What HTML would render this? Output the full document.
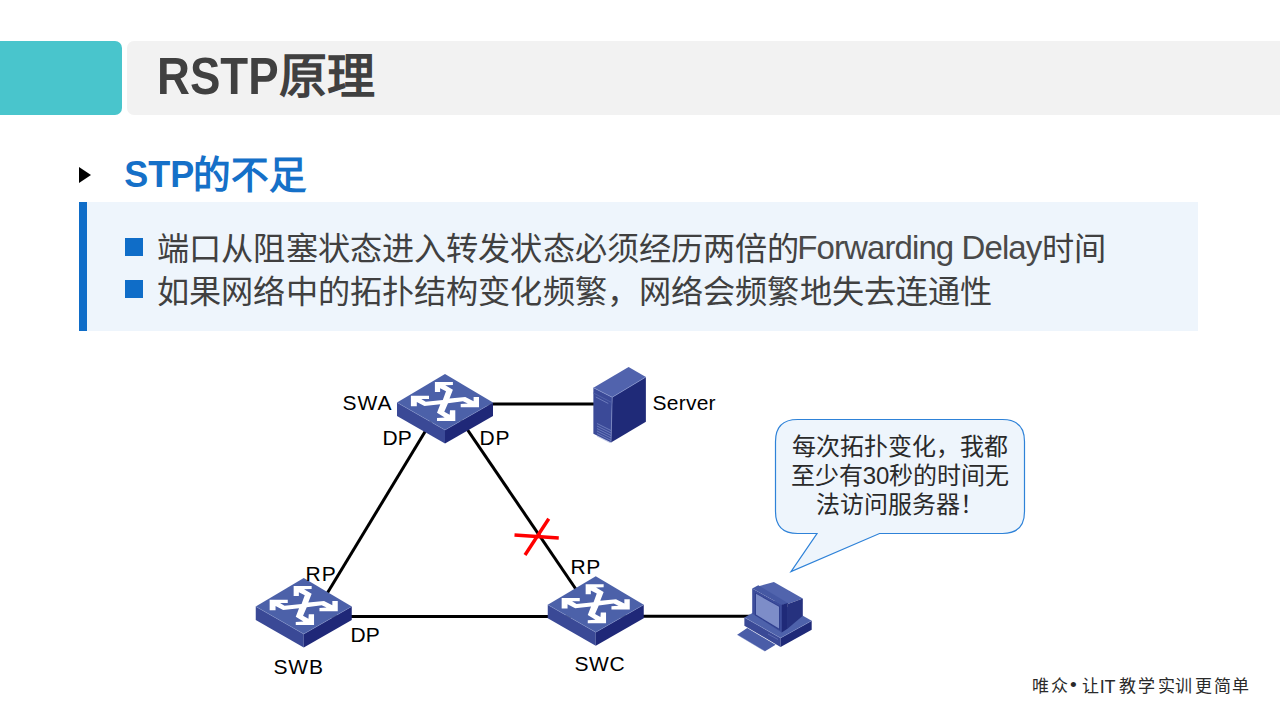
<!DOCTYPE html>
<html lang="zh-CN"><head><meta charset="utf-8">
<style>
html,body{margin:0;padding:0;background:#fff;}
body{width:1280px;height:720px;position:relative;overflow:hidden;font-family:"Liberation Sans",sans-serif;}
.abs{position:absolute;}
#teal{left:0;top:41px;width:122px;height:74px;background:#49C5CC;border-radius:0 7px 7px 0;}
#gbar{left:127px;top:41px;width:1160px;height:74px;background:#F2F2F2;border-radius:7px 0 0 7px;}
#titleL{left:156.8px;top:40px;line-height:74px;font-size:51px;font-weight:bold;color:#404040;white-space:nowrap;transform-origin:0 0;transform:scaleX(0.894);}
#titleC{left:279px;top:40px;line-height:74px;font-size:48px;font-weight:bold;color:#404040;white-space:nowrap;}
#tri{left:79px;top:167px;width:0;height:0;border-left:12.8px solid #000;border-top:8px solid transparent;border-bottom:8px solid transparent;}
#subL{left:124.2px;top:149px;font-size:36px;font-weight:bold;color:#1570C8;white-space:nowrap;line-height:52px;}
#subC{left:193px;top:149px;font-size:37.6px;font-weight:bold;color:#1570C8;white-space:nowrap;line-height:52px;}
#box{left:79px;top:202px;width:1119px;height:129px;background:#EEF5FC;}
#bar{left:79px;top:202px;width:8px;height:129px;background:#0F6DC8;}
.sq{position:absolute;left:125px;width:18px;height:18px;background:#0F6DC8;}
.ln{position:absolute;left:157px;font-size:32.2px;letter-spacing:0.13px;color:#404040;white-space:nowrap;line-height:42px;}
.lat{font-size:33px;letter-spacing:-0.9px;margin-left:-2.4px;margin-right:0.6px;color:#4a4a4a;position:relative;top:-1px;}
#diag{left:0;top:0;}
.lbl{font-family:"Liberation Sans",sans-serif;font-size:21px;fill:#000;}
#bub{left:775px;top:431.7px;width:250px;font-size:24px;line-height:29.2px;color:#2a2a2a;text-align:center;}
#logo span{position:absolute;top:676px;font-family:"Liberation Serif",serif;font-size:17px;line-height:22px;color:#2a2a2a;white-space:nowrap;}
</style></head><body>
<div id="teal" class="abs"></div>
<div id="gbar" class="abs"></div>
<div id="titleL" class="abs">RSTP</div><div id="titleC" class="abs">原理</div>
<div id="tri" class="abs"></div>
<div id="subL" class="abs">STP</div><div id="subC" class="abs">的不足</div>
<div id="box" class="abs"></div>
<div id="bar" class="abs"></div>
<div class="sq" style="top:238px"></div>
<div class="sq" style="top:280px"></div>
<div class="ln" style="top:228px">端口从阻塞状态进入转发状态必须经历两倍的<span class="lat">Forwarding Delay</span>时间</div>
<div class="ln" style="top:270.5px">如果网络中的拓扑结构变化频繁，网络会频繁地失去连通性</div>

<svg id="diag" class="abs" width="1280" height="720" viewBox="0 0 1280 720">
<defs>
<g id="sw">
  <polygon points="-48,0.5 0,28 0,41.5 -48,14" fill="#3A4996"/>
  <polygon points="48,0.5 0,28 0,41.5 48,14" fill="#1F2878"/>
  <polygon points="0,-28 48,0.5 0,28 -48,0.5" fill="#4C61A9"/>
  <polyline points="-48,0.5 0,28 48,0.5" fill="none" stroke="#8a9ad0" stroke-width="0.5" stroke-opacity="0.75"/>
  <polygon fill="#fff" points="-10.1,-20.1 7.9,-20.1 7.9,-16.9 0.3,-16.7 7.9,-12.3 4.5,-3.4 20.3,-5 28.6,-0.75 28.6,-5 34,-5 34,5.2 15.7,5.2 15.7,2.1 22.8,1.5 17.9,-0.75 3,1.2 -0.7,9.7 4.7,12.7 5,8.3 10.3,8.3 10.3,19 -8,19 -8,16 -0.3,15.5 -8,10.7 -4.7,2.2 -20.6,3.9 -28.2,0 -28.2,4.25 -34.1,4.25 -34.1,-6.2 -16,-6.2 -16,-3 -23.7,-3 -19.2,-0.3 -2.2,-2 1,-10.7 -4.9,-13.8 -4.9,-10 -10.1,-10"/>
</g>
</defs>
<!-- links -->
<g stroke="#000" stroke-width="3" fill="none">
  <line x1="445" y1="404" x2="600" y2="404"/>
  <line x1="443" y1="402" x2="319.5" y2="606"/>
  <line x1="448.6" y1="402" x2="586" y2="604"/>
  <line x1="304" y1="616.5" x2="596" y2="616.5"/>
  <line x1="596" y1="616.3" x2="750" y2="616.3"/>
</g>
<!-- red x -->
<g stroke="#FF0000" stroke-width="3.4">
  <line x1="514.5" y1="535" x2="558.75" y2="538"/>
  <line x1="548.75" y1="518.75" x2="525" y2="555"/>
</g>
<use href="#sw" transform="translate(445,402)"/>
<use href="#sw" transform="translate(303.75,606)"/>
<use href="#sw" transform="translate(595.75,604.25)"/>
<!-- server -->
<g>
<polygon points="593.4,387.7 612.2,397.3 611,442.6 593.4,433.7" fill="#3B4A98"/>
<polygon points="612.2,397.3 645.9,377 645.9,421.7 611,442.6" fill="#1F2A78"/>
<polygon points="593.4,387.7 628.6,367 645.9,377 612.2,397.3" fill="#5163AD"/>
<g stroke="#8C9BD2" stroke-width="0.6" fill="none">
<polyline points="593.4,387.7 612.2,397.3 645.9,377"/>
<line x1="612.2" y1="397.3" x2="611" y2="442.6"/>
<line x1="593.4" y1="393" x2="611.9" y2="402.6" stroke="#4F60A8" stroke-width="1"/>
<line x1="595.8" y1="397" x2="608.3" y2="403.5"/>
<line x1="597" y1="423.5" x2="611" y2="430.5"/>
<line x1="597" y1="426" x2="611" y2="433"/>
<line x1="597" y1="428.5" x2="611" y2="435.5"/>
<line x1="597" y1="431" x2="611" y2="438"/>
<line x1="597" y1="433.5" x2="611" y2="440.5"/>
<line x1="597" y1="436" x2="610" y2="442.5"/>
</g>
</g>
<!-- pc -->
<g>
<polygon points="737.2,634.7 747.2,628 775.6,644.7 765,651.3" fill="#4A5DA8"/>
<line x1="737.2" y1="634.7" x2="765" y2="651.3" stroke="#8C9BD2" stroke-width="0.5" stroke-opacity="0.7"/>
<polygon points="744.4,617.4 780.6,638 780.6,646.9 744.4,625.8" fill="#3A4996"/>
<polygon points="780.6,638 811.7,620.8 811.7,629.7 780.6,646.9" fill="#1F2A78"/>
<polygon points="744.4,617.4 775.6,600.2 811.7,620.8 780.6,638" fill="#4E62AB"/>
<polyline points="744.4,617.4 780.6,638 811.7,620.8" fill="none" stroke="#8C9BD2" stroke-width="0.5" stroke-opacity="0.7"/>
<line x1="768" y1="634" x2="778" y2="639.5" stroke="#7080C0" stroke-width="0.6"/>
<polygon points="756,587 773.9,581.9 802.8,598.6 787.8,604.1 781.7,604.7" fill="#5164AD"/>
<polygon points="787.8,604.1 802.8,598.6 802.8,615.8 787.8,628.6" fill="#26327F"/>
<polygon points="752.2,588.6 781.7,604.7 781.7,632.4 752.2,613.6" fill="#3D4D9B"/>
<polygon points="752.2,588.6 758.3,585.2 787.8,603 781.7,604.7" fill="#4558A3"/>
<polygon points="781.7,604.7 787.8,603 787.8,628.6 781.7,632.4" fill="#1F2A78"/>
<polygon points="755,592.4 780,606.3 780,630.2 755,615.2" fill="#2F3F8E"/>
<polygon points="756,593.8 779,606.8 779,628.6 756,614.6" fill="#7D8DC8"/>
</g>
<!-- labels -->
<text class="lbl" x="342.5" y="409.5" letter-spacing="1">SWA</text>
<text class="lbl" x="382.5" y="444.5">DP</text>
<text class="lbl" x="479.5" y="444.5" letter-spacing="0.8">DP</text>
<text class="lbl" x="652.5" y="409.5" letter-spacing="0.25">Server</text>
<text class="lbl" x="305.5" y="580.5" letter-spacing="1">RP</text>
<text class="lbl" x="350.5" y="641.5">DP</text>
<text class="lbl" x="273.5" y="674" letter-spacing="0.8">SWB</text>
<text class="lbl" x="570.5" y="574" letter-spacing="0.5">RP</text>
<text class="lbl" x="574.5" y="671" letter-spacing="0.6">SWC</text>
<!-- bubble -->
<path d="M797.5,419.5 L1002.5,419.5 Q1024.5,419.5 1024.5,441.5 L1024.5,511.5 Q1024.5,533.5 1002.5,533.5 L879.5,533.5 L791,571.6 L817,533.5 L797.5,533.5 Q775.5,533.5 775.5,511.5 L775.5,441.5 Q775.5,419.5 797.5,419.5 Z" fill="#EEF5FC" stroke="#2E82D8" stroke-width="1.2"/>
</svg>
<div id="bub" class="abs">每次拓扑变化，我都<br>至少有30秒的时间无<br>法访问服务器！</div>
<div id="logo"><span style="left:1032.2px">唯</span><span style="left:1050.5px">众</span><span style="left:1069.5px;font-size:22px;top:674px">•</span><span style="left:1082.0px">让</span><span style="left:1099.8px;font-family:'Liberation Sans',sans-serif;font-size:18px">I</span><span style="left:1104.4px;font-family:'Liberation Sans',sans-serif;font-size:18px">T</span><span style="left:1118.6px">教</span><span style="left:1137.9px">学</span><span style="left:1158.2px">实</span><span style="left:1174.5px">训</span><span style="left:1194.8px">更</span><span style="left:1214.1px">简</span><span style="left:1232.4px">单</span></div>
</body></html>
